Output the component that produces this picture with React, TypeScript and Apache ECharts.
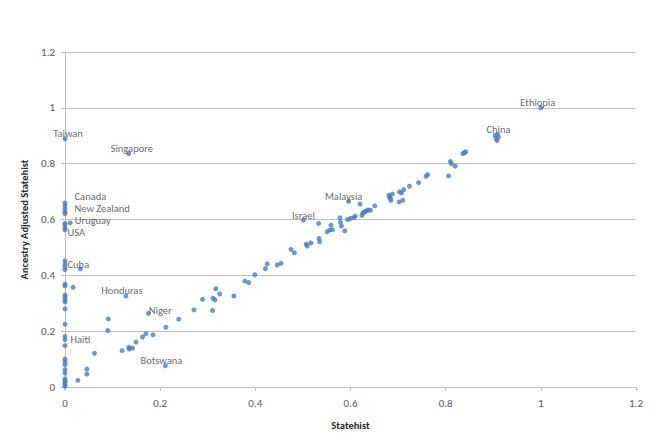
import React, { useEffect, useRef } from "react";
import * as echarts from "echarts";

// Axis scale
const axisMin = 0;
const axisMax = 1.2;
const axisStep = 0.2;

// Labeled countries
const labeledCountries = [
  "Ethiopia", "China", "Malaysia", "Israel", "Singapore", "Taiwan", "Canada", "New Zealand",
  "Uruguay", "USA", "Cuba", "Honduras", "Niger", "Haiti", "Botswana",
];
const labeledStatehist = [1.0, 0.909, 0.596, 0.501, 0.134, 0, 0, 0, 0.011, 0, 0, 0.128, 0.175, 0, 0.211];
const labeledAncestry = [1.0, 0.905, 0.665, 0.598, 0.836, 0.889, 0.659, 0.637, 0.588, 0.563, 0.44, 0.326, 0.264, 0.17, 0.076];

// Other (unlabeled) countries
const zeroColumnAncestry = [
  0.649, 0.627, 0.621, 0.586, 0.581, 0.57, 0.452, 0.431, 0.421, 0.368, 0.362, 0.33, 0.321, 0.312,
  0.305, 0.28, 0.225, 0.181, 0.148, 0.1, 0.09, 0.08, 0.062, 0.05, 0.029, 0.022, 0.016, 0.008, 0.002,
];
const otherStatehist = [
  0.017, 0.032, 0.027, 0.046, 0.046, 0.062, 0.091, 0.09, 0.12, 0.134, 0.135, 0.142, 0.149, 0.163,
  0.17, 0.185, 0.212, 0.239, 0.271, 0.289, 0.31, 0.311, 0.315, 0.317, 0.325, 0.355, 0.378, 0.386,
  0.399, 0.421, 0.425, 0.446, 0.454, 0.475, 0.482, 0.507, 0.509, 0.517, 0.533, 0.534, 0.535, 0.551,
  0.556, 0.559, 0.562, 0.578, 0.579, 0.581, 0.588, 0.594, 0.6, 0.607, 0.61, 0.62, 0.624, 0.626,
  0.63, 0.633, 0.637, 0.642, 0.651, 0.681, 0.682, 0.684, 0.685, 0.688, 0.702, 0.703, 0.707, 0.712,
  0.71, 0.724, 0.743, 0.759, 0.762, 0.806, 0.81, 0.812, 0.82, 0.836, 0.84, 0.842, 0.904, 0.911,
  0.906, 0.908,
];
const otherAncestry = [
  0.357, 0.423, 0.024, 0.064, 0.046, 0.121, 0.244, 0.202, 0.13, 0.142, 0.136, 0.139, 0.161, 0.179,
  0.191, 0.187, 0.214, 0.243, 0.276, 0.314, 0.274, 0.318, 0.312, 0.352, 0.333, 0.326, 0.379, 0.374,
  0.402, 0.424, 0.441, 0.437, 0.443, 0.493, 0.481, 0.512, 0.505, 0.516, 0.586, 0.532, 0.52, 0.556,
  0.562, 0.58, 0.564, 0.606, 0.59, 0.577, 0.559, 0.6, 0.604, 0.607, 0.612, 0.655, 0.615, 0.624,
  0.627, 0.631, 0.634, 0.633, 0.649, 0.687, 0.681, 0.675, 0.669, 0.691, 0.663, 0.699, 0.695, 0.707,
  0.669, 0.719, 0.732, 0.755, 0.761, 0.756, 0.808, 0.8, 0.791, 0.836, 0.839, 0.843, 0.901, 0.895,
  0.889, 0.883,
];

// Label placement (styling only)
const labelPlacement: Record<string, { position: string; distance: number; offset: [number, number] }> = {
  Ethiopia: { position: "top", distance: -2, offset: [-3, 0] },
  China: { position: "top", distance: -2, offset: [1, 0] },
  Malaysia: { position: "top", distance: -2, offset: [-5, 0] },
  Israel: { position: "top", distance: -2, offset: [0, 0] },
  Singapore: { position: "top", distance: -2, offset: [3, 0] },
  Taiwan: { position: "top", distance: -2, offset: [3, 0] },
  Canada: { position: "right", distance: 7, offset: [0, -7] },
  "New Zealand": { position: "right", distance: 7, offset: [0, -0.5] },
  Uruguay: { position: "right", distance: 2, offset: [0, -2] },
  USA: { position: "right", distance: 0, offset: [0, 3] },
  Cuba: { position: "right", distance: 0, offset: [0, 0] },
  Honduras: { position: "top", distance: -2, offset: [-4, 0] },
  Niger: { position: "right", distance: 0, offset: [-2, -3] },
  Haiti: { position: "right", distance: 3, offset: [0, 0] },
  Botswana: { position: "top", distance: -2, offset: [-4, 0] },
};

const FONT = "Carlito, Calibri, 'Liberation Sans', sans-serif";
const BLUE = "#4A7EBB";

export default function App() {
  const ref = useRef<HTMLDivElement>(null);

  useEffect(() => {
    if (!ref.current) return;
    const chart = echarts.init(ref.current, undefined, { renderer: "svg" });

    const otherData: [number, number][] = [
      ...zeroColumnAncestry.map((y) => [0, y] as [number, number]),
      ...otherStatehist.map((x, i) => [x, otherAncestry[i]] as [number, number]),
    ];

    const labeledData = labeledCountries.map((name, i) => {
      const p = labelPlacement[name];
      return {
        name,
        value: [labeledStatehist[i], labeledAncestry[i]],
        label: {
          show: true,
          position: p.position,
          distance: p.distance,
          offset: p.offset,
          formatter: "{b}",
        },
      };
    });

    const fmt = (v: number) => String(Math.round(v * 10) / 10);

    const axisCommon = {
      type: "value",
      min: axisMin,
      max: axisMax,
      interval: axisStep,
      axisLine: { show: true, lineStyle: { color: "#BFBFBF", width: 1 } },
      axisTick: { show: true, length: 4, lineStyle: { color: "#BFBFBF" } },
      axisLabel: { color: "#595959", fontSize: 11, fontFamily: FONT, formatter: fmt },
      nameTextStyle: { color: "#262626", fontSize: 10.5, fontWeight: "bold", fontFamily: FONT },
    };

    chart.setOption({
      animation: false,
      backgroundColor: "#FFFFFF",
      grid: { left: 65, right: 24, top: 52, bottom: 61, containLabel: false },
      xAxis: {
        ...axisCommon,
        name: "Statehist",
        nameLocation: "middle",
        nameGap: 33,
        splitLine: { show: false },
        axisLabel: { ...axisCommon.axisLabel, margin: 11 },
      },
      yAxis: {
        ...axisCommon,
        name: "Ancestry Adjusted Statehist",
        nameLocation: "middle",
        nameGap: 28,
        splitLine: { show: true, lineStyle: { color: "#BFBFBF", width: 1 } },
        axisLabel: { ...axisCommon.axisLabel, margin: 10 },
      },
      series: [
        {
          type: "scatter",
          symbol: "circle",
          symbolSize: 5,
          itemStyle: { color: BLUE },
          data: otherData,
          silent: true,
        },
        {
          type: "scatter",
          symbol: "circle",
          symbolSize: 5,
          itemStyle: { color: BLUE },
          label: { color: "#404040", fontSize: 10.5, lineHeight: 9, fontFamily: FONT },
          data: labeledData,
          silent: true,
        },
      ],
    });

    return () => chart.dispose();
  }, []);

  return <div ref={ref} style={{ width: 660, height: 448, position: "absolute", left: 0, top: 0 }} />;
}
